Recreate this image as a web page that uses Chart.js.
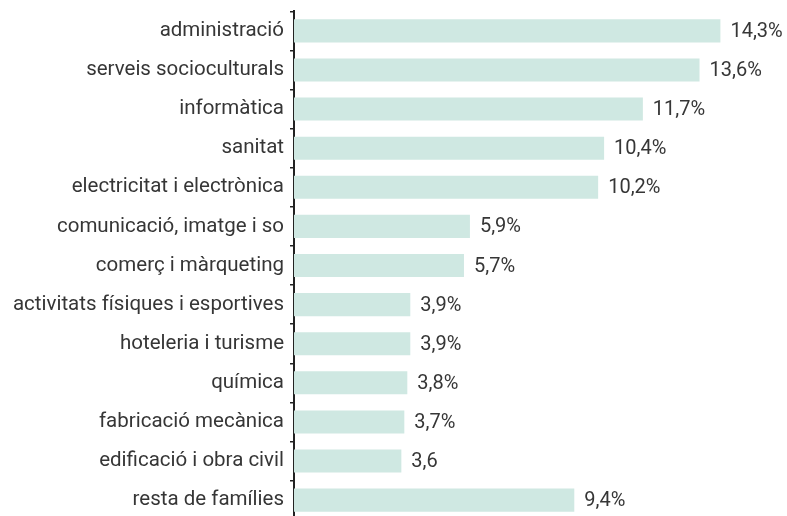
<!DOCTYPE html>
<html>
<head>
<meta charset="utf-8">
<script src="https://cdn.jsdelivr.net/npm/chart.js@4.4.0/dist/chart.umd.min.js"></script>
<style>
  html, body { margin: 0; padding: 0; background: #fff; overflow: hidden; }
  #wrap { position: relative; width: 787px; height: 545px; margin-top: -7px; }
</style>
</head>
<body>
<div id="wrap"><canvas id="familiesChart"></canvas></div>
<script>
// Famílies professionals (percentatge)
const families = [
    'administració',
    'serveis socioculturals',
    'informàtica',
    'sanitat',
    'electricitat i electrònica',
    'comunicació, imatge i so',
    'comerç i màrqueting',
    'activitats físiques i esportives',
    'hoteleria i turisme',
    'química',
    'fabricació mecànica',
    'edificació i obra civil',
    'resta de famílies'
];
const percentages = [14.3, 13.6, 11.7, 10.4, 10.2, 5.9, 5.7, 3.9, 3.9, 3.8, 3.7, 3.6, 9.4];
const suffixes = ['%', '%', '%', '%', '%', '%', '%', '%', '%', '%', '%', '', '%'];

const FONT = 'Roboto, "DejaVu Sans", sans-serif';
const TEXT_COLOR = '#363636';

// Etiquetes de valor a la dreta de cada barra
const valueLabels = {
    id: 'valueLabels',
    afterDatasetsDraw(chart) {
        const ctx = chart.ctx;
        const meta = chart.getDatasetMeta(0);
        ctx.save();
        ctx.font = '20px ' + FONT;
        ctx.fillStyle = TEXT_COLOR;
        ctx.textAlign = 'left';
        ctx.textBaseline = 'middle';
        meta.data.forEach((bar, i) => {
            const txt = percentages[i].toFixed(1).replace('.', ',') + suffixes[i];
            ctx.fillText(txt, bar.x + 10, bar.y + 1);
        });
        ctx.restore();
    }
};

const ctx = document.getElementById('familiesChart').getContext('2d');

const familiesChart = new Chart(ctx, {
    type: 'bar',
    data: {
        labels: families,
        datasets: [{
            data: percentages,
            backgroundColor: '#cfe8e2',
            borderWidth: 0,
            barPercentage: 0.59,
            categoryPercentage: 1.0
        }]
    },
    options: {
        indexAxis: 'y',
        responsive: true,
        maintainAspectRatio: false,
        animation: false,
        layout: {
            padding: { top: 0, right: 1, bottom: 0, left: 0 }
        },
        plugins: {
            legend: { display: false },
            tooltip: { enabled: false }
        },
        scales: {
            x: {
                display: false,
                min: 0,
                max: 16.5
            },
            y: {
                afterFit(axis) {
                    axis.width = 294;
                },
                border: {
                    display: true,
                    color: '#222222',
                    width: 2
                },
                grid: {
                    display: true,
                    drawOnChartArea: false,
                    drawTicks: true,
                    tickLength: 4,
                    offset: true,
                    color: '#222222',
                    lineWidth: 1.5
                },
                ticks: {
                    color: TEXT_COLOR,
                    padding: 6,
                    font: {
                        family: FONT,
                        size: 20.5
                    }
                }
            }
        }
    },
    plugins: [valueLabels]
});
</script>
</body>
</html>
